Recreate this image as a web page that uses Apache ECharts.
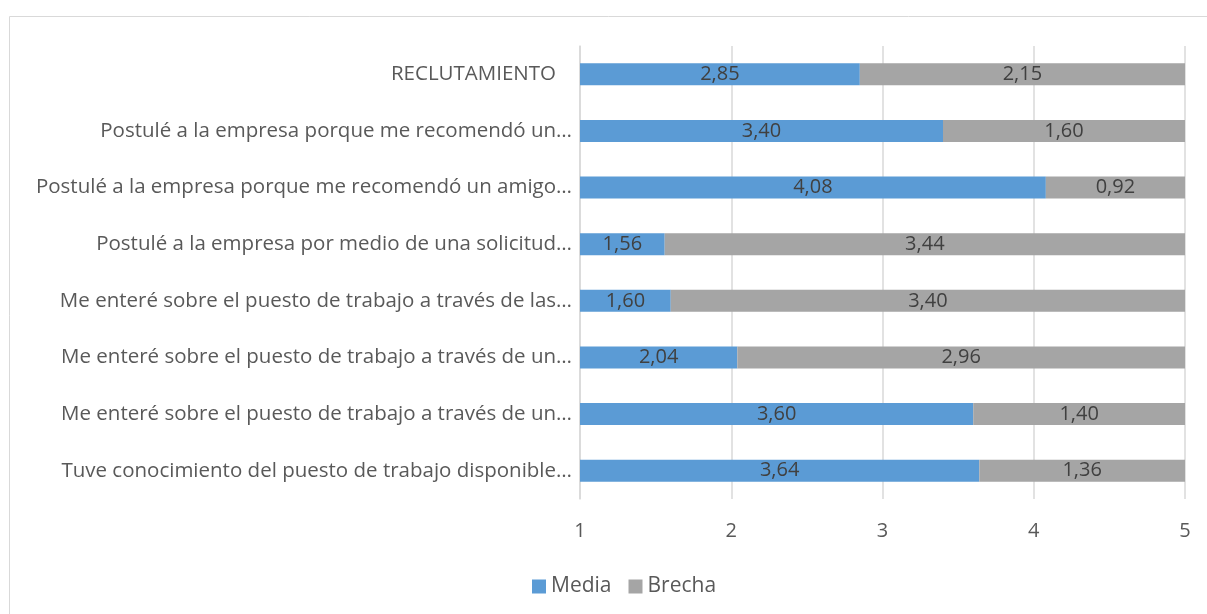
<!DOCTYPE html>
<html>
<head>
<meta charset="utf-8">
<script src="https://cdn.jsdelivr.net/npm/echarts@6/dist/echarts.min.js"></script>
<style>
  html, body { margin: 0; padding: 0; background: #fff; }
  #chart { width: 1207px; height: 614px; }
</style>
</head>
<body>
<div id="chart"></div>
<script>
  // categorías (de arriba hacia abajo)
  var categorias = [
    'RECLUTAMIENTO   ',
    'Postulé a la empresa porque me recomendó un…',
    'Postulé a la empresa porque me recomendó un amigo…',
    'Postulé a la empresa por medio de una solicitud…',
    'Me enteré sobre el puesto de trabajo a través de las…',
    'Me enteré sobre el puesto de trabajo a través de un…',
    'Me enteré sobre el puesto de trabajo a través de un…',
    'Tuve conocimiento del puesto de trabajo disponible…'
  ];
  var media = [2.85, 3.40, 4.08, 1.56, 1.60, 2.04, 3.60, 3.64];
  var brecha = [2.15, 1.60, 0.92, 3.44, 3.40, 2.96, 1.40, 1.36];
  var ticks = [1, 2, 3, 4, 5];

  var fuente = '"Open Sans", "Noto Sans", sans-serif';
  var chart = echarts.init(document.getElementById('chart'));

  function etiqueta(p) {
    return p.value.toFixed(2).replace('.', ',');
  }

  var option = {
    animation: false,
    textStyle: { fontFamily: fuente },
    graphic: [{
      type: 'rect',
      shape: { x: 9.5, y: 16.5, width: 1220, height: 620 },
      style: { fill: 'none', stroke: '#d9d9d9', lineWidth: 1 }
    }],
    legend: {
      top: 571,
      left: 527,
      itemWidth: 14,
      itemHeight: 14,
      itemGap: 17,
      icon: 'rect',
      textStyle: { color: '#595959', fontSize: 21, fontFamily: fuente },
      data: ['Media', 'Brecha']
    },
    grid: { left: 580, right: 22, top: 46, bottom: 115 },
    xAxis: {
      type: 'value',
      min: 1,
      max: 5,
      interval: 1,
      axisLine: { show: false },
      axisTick: { show: false },
      splitLine: { lineStyle: { color: '#d9d9d9', width: 1.5 } },
      axisLabel: {
        color: '#595959', fontSize: 20, margin: 22, fontFamily: fuente,
        formatter: function (v) { return ticks.indexOf(v) >= 0 ? String(v) : ''; }
      }
    },
    yAxis: {
      type: 'category',
      inverse: true,
      data: categorias,
      axisLine: { lineStyle: { color: '#d9d9d9', width: 1.5 } },
      axisTick: { show: false },
      axisLabel: { color: '#595959', fontSize: 20.5, margin: 8, fontFamily: fuente }
    },
    series: [{
      name: 'Media',
      type: 'bar',
      stack: 'total',
      barWidth: 22,
      data: media,
      itemStyle: { color: '#5b9bd5' },
      label: { show: true, position: 'inside', color: '#404040', fontSize: 20, fontFamily: fuente, formatter: etiqueta }
    }, {
      name: 'Brecha',
      type: 'bar',
      stack: 'total',
      barWidth: 22,
      data: brecha,
      itemStyle: { color: '#a5a5a5' },
      label: { show: true, position: 'inside', color: '#404040', fontSize: 20, fontFamily: fuente, formatter: etiqueta }
    }]
  };

  chart.setOption(option);
</script>
</body>
</html>
